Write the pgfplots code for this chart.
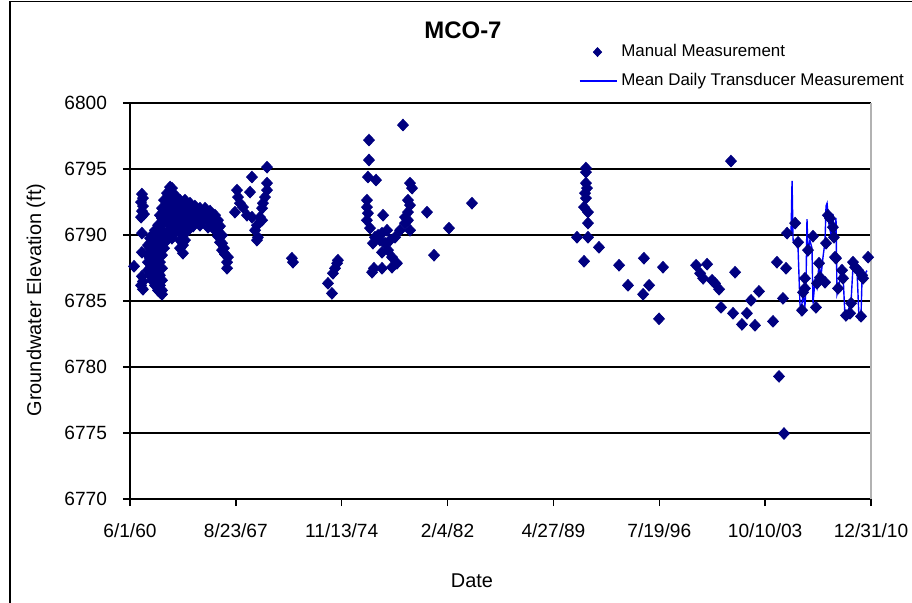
\documentclass[border=0pt]{standalone}
\usepackage{fontspec}
\setmainfont{Liberation Sans}
\usepackage{pgfplots}
\pgfplotsset{compat=1.18}
\usepackage{pgfplotstable}
\definecolor{navy}{HTML}{000080}
\definecolor{tblue}{HTML}{0000FF}

\pgfplotsset{
  diamondlegend/.style={legend image code/.code={\draw[mark repeat=2, mark phase=2, ##1, mark size=2.2bp] plot coordinates {(0bp,0bp) (9bp,0bp) (18.5bp,0bp)};}},
  linelegend/.style={legend image code/.code={\draw[tblue, line width=0.8bp] (0bp,0bp) -- (18.5bp,0bp);}},
}

% manual measurements: decimal year, elevation (ft)
\pgfplotstableread{
year elev
1960.69 6787.63
1961.23 6793.10
1961.30 6792.79
1961.17 6792.49
1961.30 6792.19
1961.23 6791.81
1961.37 6791.58
1961.17 6791.35
1961.23 6790.14
1961.23 6788.69
1961.23 6786.87
1961.30 6786.49
1961.17 6786.19
1961.30 6785.89
1961.64 6789.23
1961.64 6788.47
1961.64 6787.94
1961.64 6787.33
1961.78 6789.76
1961.78 6789.00
1961.78 6788.24
1961.78 6787.48
1961.78 6786.95
1961.92 6789.98
1961.92 6789.23
1961.92 6788.47
1961.92 6787.71
1961.92 6786.95
1961.92 6786.57
1962.12 6790.36
1962.12 6789.61
1962.12 6788.85
1962.12 6788.09
1962.12 6787.33
1962.12 6786.57
1962.12 6786.19
1962.33 6790.74
1962.33 6789.98
1962.33 6789.23
1962.33 6788.47
1962.33 6787.71
1962.33 6786.95
1962.33 6786.34
1962.33 6785.81
1962.46 6791.50
1962.46 6790.74
1962.46 6789.83
1962.46 6788.85
1962.46 6787.94
1962.46 6786.95
1962.46 6786.19
1962.46 6785.66
1962.60 6792.03
1962.60 6791.27
1962.60 6790.36
1962.60 6789.45
1962.60 6788.47
1962.60 6787.48
1962.60 6786.57
1962.60 6785.81
1962.60 6785.51
1962.74 6792.64
1962.74 6791.88
1962.74 6790.97
1962.74 6789.98
1962.74 6789.00
1962.94 6793.17
1962.94 6792.49
1962.94 6791.73
1962.94 6790.97
1962.94 6790.21
1962.94 6789.61
1963.15 6793.63
1963.15 6793.10
1963.15 6792.49
1963.15 6791.73
1963.15 6790.97
1963.15 6790.21
1963.28 6793.55
1963.28 6792.87
1963.28 6792.11
1963.28 6791.35
1963.28 6790.52
1963.28 6789.76
1963.49 6793.02
1963.49 6792.26
1963.49 6791.50
1963.49 6790.74
1963.49 6790.21
1963.69 6792.26
1963.69 6791.65
1963.69 6790.97
1963.69 6790.36
1963.83 6792.64
1963.83 6791.88
1963.83 6791.12
1963.83 6790.36
1963.83 6789.61
1963.83 6789.00
1964.03 6792.26
1964.03 6791.50
1964.03 6790.74
1964.03 6789.98
1964.03 6789.23
1964.03 6788.62
1964.17 6792.64
1964.17 6791.88
1964.17 6791.12
1964.17 6790.36
1964.17 6789.61
1964.37 6792.26
1964.37 6791.65
1964.37 6790.97
1964.37 6790.36
1964.51 6792.41
1964.51 6791.73
1964.51 6790.97
1964.72 6792.03
1964.72 6791.43
1964.72 6790.67
1964.85 6792.19
1964.85 6791.58
1964.85 6790.90
1965.06 6791.88
1965.06 6791.20
1965.19 6792.03
1965.19 6791.43
1965.19 6790.74
1965.40 6791.81
1965.40 6791.12
1965.54 6792.03
1965.54 6791.43
1965.74 6791.73
1965.74 6791.12
1965.74 6790.59
1965.88 6791.81
1965.88 6791.20
1966.01 6791.58
1966.01 6790.97
1966.22 6791.50
1966.22 6790.90
1966.22 6790.36
1966.42 6791.12
1966.42 6790.52
1966.42 6789.91
1966.56 6790.67
1966.56 6790.06
1966.56 6789.45
1966.70 6789.98
1966.70 6789.38
1966.70 6788.85
1966.83 6789.00
1966.90 6788.54
1967.04 6787.94
1967.04 6787.48
1967.10 6788.32
1967.72 6793.40
1967.79 6792.87
1967.92 6792.41
1967.58 6791.73
1968.13 6792.11
1968.40 6791.50
1968.74 6791.35
1968.74 6794.39
1968.61 6793.25
1969.77 6795.14
1969.77 6793.93
1969.77 6793.40
1969.63 6792.87
1969.49 6792.41
1969.43 6792.03
1969.29 6791.35
1969.43 6791.12
1969.08 6790.74
1968.95 6790.36
1969.15 6789.83
1969.08 6789.61
1971.47 6788.24
1971.54 6787.94
1974.20 6785.58
1973.93 6786.34
1974.27 6787.10
1974.41 6787.48
1974.55 6787.86
1974.61 6788.09
1979.05 6798.33
1976.73 6797.19
1976.73 6795.68
1976.66 6794.39
1977.21 6794.16
1976.59 6792.64
1976.59 6792.11
1976.66 6791.65
1976.59 6791.12
1977.69 6791.50
1976.80 6790.52
1977.14 6789.83
1977.00 6789.38
1977.62 6790.14
1977.96 6790.36
1977.82 6789.38
1977.62 6788.69
1978.03 6788.85
1978.30 6788.32
1978.64 6787.86
1976.94 6787.18
1977.07 6787.48
1977.62 6787.48
1978.30 6787.56
1979.53 6793.93
1979.67 6793.55
1979.39 6792.64
1979.53 6792.26
1979.39 6791.73
1979.19 6791.35
1979.39 6791.12
1979.19 6790.90
1978.85 6790.36
1979.53 6790.36
1978.51 6789.83
1977.35 6789.98
1977.48 6789.61
1978.17 6789.61
1980.69 6791.73
1982.19 6790.52
1983.76 6792.41
1981.17 6788.47
1990.93 6789.83
1991.54 6795.07
1991.54 6794.76
1991.54 6793.93
1991.61 6793.55
1991.48 6793.17
1991.54 6792.79
1991.41 6792.11
1991.68 6791.73
1991.68 6790.90
1991.68 6789.83
1992.43 6789.07
1991.41 6788.01
1993.80 6787.71
1995.50 6788.24
1996.80 6787.56
1994.41 6786.19
1995.85 6786.19
1995.44 6785.51
1996.53 6783.65
1999.06 6787.71
1999.81 6787.79
1999.33 6787.10
1999.54 6786.72
2000.15 6786.57
2000.35 6786.34
2000.63 6785.89
2001.72 6787.18
2000.76 6784.52
2001.58 6784.07
2002.53 6784.07
2002.19 6783.23
2003.08 6783.16
2002.81 6785.05
2003.35 6785.73
2004.31 6783.46
2004.58 6787.94
2005.20 6787.48
2004.99 6785.20
2001.44 6795.60
2004.72 6779.29
2005.06 6774.96
2005.27 6790.14
2005.82 6790.90
2006.02 6789.45
2006.49 6786.72
2006.49 6785.96
2006.36 6785.66
2006.29 6784.30
2006.70 6788.85
2007.04 6789.91
2007.24 6784.52
2007.31 6786.34
2007.45 6787.86
2007.52 6786.79
2007.86 6786.42
2007.93 6789.38
2008.06 6791.50
2008.20 6791.27
2008.40 6790.59
2008.47 6789.83
2008.54 6788.32
2008.61 6788.24
2008.75 6785.96
2009.02 6787.33
2009.09 6786.72
2009.29 6783.91
2009.57 6784.07
2009.64 6784.83
2009.77 6787.94
2009.91 6787.56
2010.12 6787.33
2010.39 6786.95
2010.46 6786.72
2010.32 6783.84
2010.80 6788.32
}\manual

% mean daily transducer record
\pgfplotstableread{
year elev
2005.54 6790.0
2005.61 6794.1
2005.68 6789.6
2005.82 6789.3
2006.02 6789.0
2006.15 6784.8
2006.22 6784.2
2006.36 6785.5
2006.49 6784.6
2006.56 6786.0
2006.63 6791.2
2006.70 6788.8
2006.83 6789.6
2006.97 6789.0
2007.04 6784.8
2007.17 6786.5
2007.31 6786.0
2007.45 6787.8
2007.58 6786.8
2007.72 6788.3
2007.86 6789.5
2007.93 6792.2
2008.00 6792.4
2008.13 6790.8
2008.27 6790.0
2008.40 6791.6
2008.54 6789.5
2008.61 6791.3
2008.68 6785.5
2008.81 6786.0
2008.95 6787.5
2009.09 6787.0
2009.22 6783.9
2009.36 6784.0
2009.50 6784.5
2009.64 6785.0
2009.77 6787.6
2009.91 6787.8
2010.05 6787.2
2010.18 6783.7
2010.32 6784.0
2010.39 6786.8
2010.53 6786.5
2010.66 6787.2
2010.73 6787.3
}\transducer

\begin{document}
\begin{tikzpicture}
\useasboundingbox (0,0) rectangle (456bp,-301.5bp);
\draw[line width=0.7bp] (5bp,-301.5bp) -- (5bp,-0.85bp) -- (456bp,-0.85bp);
\begin{axis}[
    at={(65bp,-249.5bp)},
    anchor=south west,
    scale only axis,
    width=370.5bp,
    height=198bp,
    clip=false,
    xmin=1960.415, xmax=2011.0,
    ymin=6770, ymax=6800,
    xtick={1960.415,1967.641,1974.868,1982.094,1989.321,1996.547,2003.774,2011.0},
    xticklabels={6/1/60,8/23/67,11/13/74,2/4/82,4/27/89,7/19/96,10/10/03,12/31/10},
    ytick={6770,6775,6780,6785,6790,6795,6800},
    yticklabel style={/pgf/number format/1000 sep={}, xshift=-4.5bp},
    xticklabel style={yshift=-5.5bp},
    /pgf/number format/assume math mode=true,
    axis x line*=bottom,
    axis y line*=left,
    xtick pos=bottom, ytick pos=left,
    tick align=outside,
    major tick length=3.5bp,
    axis line style={black, line width=0.7bp},
    tick style={black, line width=0.7bp},
    ymajorgrids,
    major grid style={black, line width=0.6bp},
    tick label style={font=\fontsize{9.6}{11}\selectfont},
    title={MCO-7},
    title style={at={(axis description cs:0.4494,1.184)}, anchor=center, yshift=-6pt,
        font=\bfseries\fontsize{12}{13}\selectfont},
    xlabel={Date},
    xlabel style={at={(axis description cs:0.4615,-0.207)}, anchor=center, font=\fontsize{10}{12}\selectfont},
    ylabel={Groundwater Elevation (ft)},
    ylabel style={at={(axis description cs:-0.1269,0.5025)}, anchor=center, font=\fontsize{10}{12}\selectfont},
    legend style={at={(axis description cs:0.605,1.159)}, anchor=north west, draw=none, fill=none,
        font=\fontsize{8.5}{10}\selectfont, row sep=3bp, inner sep=0pt},
    legend cell align=left,
]
\addplot[tblue, line width=0.7bp, forget plot] table[x=year, y=elev] {\transducer};
\addplot[only marks, mark=diamond*, mark size=2.9bp,
    mark options={xscale=1.25, draw=navy, fill=navy}, diamondlegend]
    table[x=year, y=elev] {\manual};
\addlegendentry{Manual Measurement}
\addlegendimage{linelegend}
\addlegendentry{Mean Daily Transducer Measurement}
\draw[gray!60, line width=0.7bp] (rel axis cs:1,0) -- (rel axis cs:1,1);
\end{axis}
\end{tikzpicture}
\end{document}
